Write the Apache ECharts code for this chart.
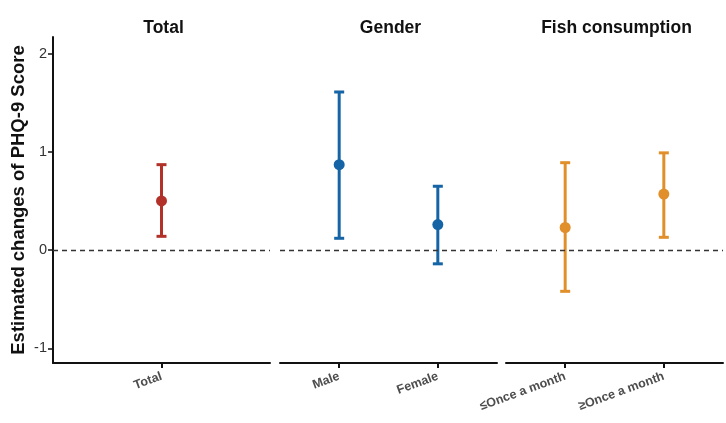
<!DOCTYPE html>
<html>
<head>
<meta charset="utf-8">
<script src="https://cdn.jsdelivr.net/npm/echarts@6/dist/echarts.min.js"></script>
<style>html,body{margin:0;padding:0;background:#fff}#c{width:726px;height:423px}</style>
</head>
<body>
<div id="c"></div>
<script>
// Data
const panelTitles = ['Total', 'Gender', 'Fish consumption'];
const catsTotal = ['Total'];
const catsGender = ['Male', 'Female'];
const catsFish = ['\u2264Once a month', '\u2265Once a month'];
const estTotal = [0.50];
const lowTotal = [0.14];
const highTotal = [0.87];
const estGender = [0.87, 0.26];
const lowGender = [0.12, -0.14];
const highGender = [1.61, 0.65];
const estFish = [0.23, 0.57];
const lowFish = [-0.42, 0.13];
const highFish = [0.89, 0.99];
const yTicks = [-1, 0, 1, 2];

const colors = ['#B2322A', '#1464A6', '#E08F2A'];
const panels = [
  {cats: catsTotal, est: estTotal, low: lowTotal, high: highTotal},
  {cats: catsGender, est: estGender, low: lowGender, high: highGender},
  {cats: catsFish, est: estFish, low: lowFish, high: highFish}
];
const gridLefts = [53, 280, 506];
const gridW = 217;
const FONT = 'Liberation Sans, Arial, sans-serif';

const grids = [], xAxes = [], yAxes = [], series = [], titles = [];
panels.forEach((p, i) => {
  grids.push({left: gridLefts[i], width: gridW, top: 37, bottom: 60});
  const n = p.cats.length;
  const idx = p.cats.map((_, k) => k + 1);
  xAxes.push({
    type: 'value', gridIndex: i, min: 0.4, max: n + 0.6,
    splitLine: {show: false},
    axisLine: {show: true, onZero: false, lineStyle: {color: '#111', width: 2}},
    axisTick: {show: true, customValues: idx, length: 5, lineStyle: {color: '#111', width: 2}},
    axisLabel: {customValues: idx, rotate: 20, color: '#4d4d4d', fontSize: 12.5, fontWeight: 'bold',
      fontFamily: FONT, margin: 13, formatter: v => p.cats[Math.round(v) - 1] || ''}
  });
  yAxes.push({
    type: 'value', gridIndex: i, min: -1.15, max: 2.17,
    splitLine: {show: false},
    show: i === 0,
    name: i === 0 ? 'Estimated changes of PHQ-9 Score' : '',
    nameLocation: 'middle', nameGap: 25,
    nameTextStyle: {fontSize: 18.5, fontWeight: 'bold', color: '#111', fontFamily: FONT},
    axisLine: {show: true, lineStyle: {color: '#111', width: 2}},
    axisTick: {show: true, customValues: yTicks, length: 5, lineStyle: {color: '#111', width: 1.5}},
    axisLabel: {customValues: yTicks, color: '#333', fontSize: 14.5, fontFamily: FONT, margin: 6}
  });
  titles.push({
    text: panelTitles[i], left: gridLefts[i] + gridW / 2 - 3, top: 14, textAlign: 'center',
    textStyle: {fontSize: 17.5, fontWeight: 'bold', color: '#111', fontFamily: FONT}
  });
  const errData = p.cats.map((c, k) => [k + 1, p.low[k], p.high[k]]);
  series.push({
    type: 'custom', xAxisIndex: i, yAxisIndex: i,
    data: errData,
    encode: {x: 0, y: [1, 2]},
    renderItem: (params, api) => {
      const x = api.value(0);
      const lo = api.coord([x, api.value(1)]);
      const hi = api.coord([x, api.value(2)]);
      const cap = 5;
      const style = {stroke: colors[i], lineWidth: 3};
      return {type: 'group', children: [
        {type: 'line', shape: {x1: lo[0], y1: lo[1], x2: hi[0], y2: hi[1]}, style},
        {type: 'line', shape: {x1: lo[0] - cap, y1: lo[1], x2: lo[0] + cap, y2: lo[1]}, style},
        {type: 'line', shape: {x1: hi[0] - cap, y1: hi[1], x2: hi[0] + cap, y2: hi[1]}, style}
      ]};
    },
    markLine: {
      silent: true, symbol: 'none', label: {show: false},
      lineStyle: {type: [5, 4], color: '#333', width: 1.3},
      data: [{yAxis: 0}]
    },
    z: 2
  });
  series.push({
    type: 'scatter', xAxisIndex: i, yAxisIndex: i,
    data: p.est.map((v, k) => [k + 1, v]),
    symbolSize: 11,
    itemStyle: {color: colors[i], opacity: 1},
    z: 3
  });
});

const chart = echarts.init(document.getElementById('c'), null, {renderer: 'canvas'});
chart.setOption({
  animation: false,
  backgroundColor: '#fff',
  title: titles,
  grid: grids,
  xAxis: xAxes,
  yAxis: yAxes,
  series: series
});
</script>
</body>
</html>
